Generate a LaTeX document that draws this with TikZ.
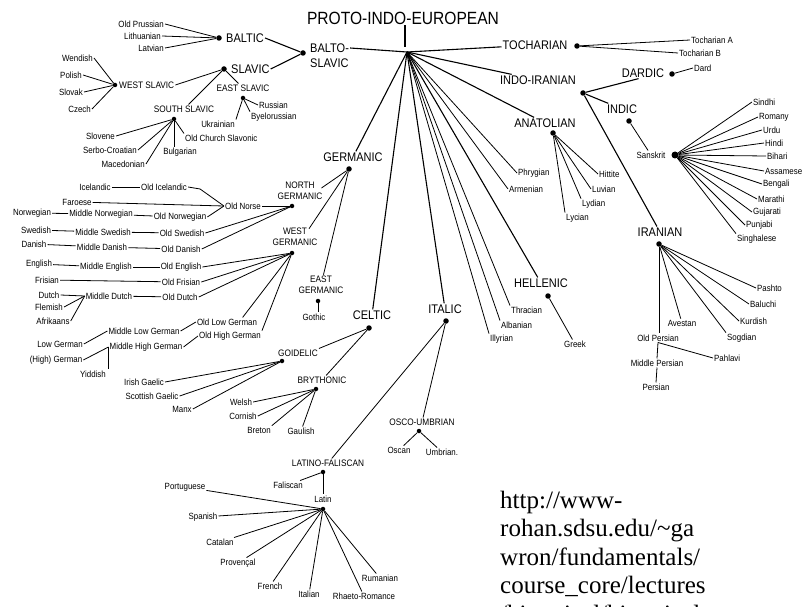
\documentclass[tikz,border=0pt]{standalone}
\usepackage{fontspec}
\setmainfont{Liberation Serif}
\newfontfamily\cond[FakeStretch=0.88]{Liberation Sans}
\usetikzlibrary{calc}
\tikzset{
 big/.style={font=\cond\fontsize{12.5}{15}\selectfont, inner sep=1pt},
 mid/.style={font=\cond\fontsize{9.4}{11.5}\selectfont, inner sep=1pt, align=center},
 sm/.style={font=\cond\fontsize{9}{10}\selectfont, inner sep=1pt},
 dot/.style={circle, fill=black, inner sep=0pt, minimum size=5.5pt},
 sdot/.style={circle, fill=black, inner sep=0pt, minimum size=4.5pt},
 br/.style={line width=1.1pt},
 ln/.style={line width=0.8pt},
 urltxt/.style={font=\fontsize{25}{28}\selectfont, inner sep=0pt, anchor=base west}
}
\begin{document}
\begin{tikzpicture}[x=1pt,y=-1pt]
\useasboundingbox (0,0) rectangle (804,607);

% ---------- root
\node[font=\cond\fontsize{17.7}{18}\selectfont, inner sep=1pt] (pie) at (403,18) {PROTO-INDO-EUROPEAN};
\coordinate (R) at (407,52);
\coordinate (Rtop) at (405,47);
\draw[br] (pie.south -| Rtop) -- (Rtop);

% ---------- Balto-Slavic
\node[big, anchor=west] (bs1) at (309,48) {BALTO-};
\node[big, anchor=west] (bs2) at (309,63) {SLAVIC};
\draw[br] (R) -- (bs1.east);
\node[dot] (bsd) at (303,53) {};
\node[dot] (baltd) at (219,38) {};
\node[big, anchor=west] (baltT) at (225,38) {BALTIC};
\draw[br] (baltT.east) -- (bsd);
\node[dot] (slavd) at (224,69) {};
\node[big, anchor=west] (slavT) at (230,69) {SLAVIC};
\draw[br] (slavT.east) -- (bsd);

\node[sm, anchor=east] (oprus) at (165,24) {Old Prussian};
\node[sm, anchor=east] (lith) at (162,36) {Lithuanian};
\node[sm, anchor=east] (latv) at (165,48) {Latvian};
\draw[ln] (baltd) -- (oprus.east);
\draw[ln] (baltd) -- (lith.east);
\draw[ln] (baltd) -- (latv.east);

\node[sdot] (wsd) at (115,85) {};
\node[mid, anchor=west] (wsT) at (118,85) {WEST SLAVIC};
\draw[ln] (wsT.east) -- (slavd);
\node[sm, anchor=east] (wend) at (94,58) {Wendish};
\node[sm, anchor=east] (pol) at (83,75) {Polish};
\node[sm, anchor=east] (slovk) at (84,92) {Slovak};
\node[sm, anchor=east] (czech) at (92,109) {Czech};
\draw[ln] (wsd) -- (wend.east);
\draw[ln] (wsd) -- (pol.east);
\draw[ln] (wsd) -- (slovk.east);
\draw[ln] (wsd) -- (czech.east);

\node[mid] (esT) at (243,88) {EAST SLAVIC};
\draw[ln] (slavd) -- (esT);
\node[sdot] (esd) at (243,98) {};
\node[sm, anchor=west] (russ) at (258,105) {Russian};
\node[sm, anchor=west] (byel) at (250,117) {Byelorussian};
\node[sm] (ukr) at (218,124) {Ukrainian};
\draw[ln] (esd) -- (russ.west);
\draw[ln] (esd) -- (byel.north west);
\draw[ln] (esd) -- (ukr.north east);

\node[mid] (ssT) at (184,109) {SOUTH SLAVIC};
\draw[ln] (slavd) -- (ssT);
\node[sdot] (ssd) at (174,119) {};
\node[sm, anchor=east] (slov) at (116,136) {Slovene};
\node[sm, anchor=east] (serb) at (138,150) {Serbo-Croatian};
\node[sm, anchor=east] (mace) at (146,164) {Macedonian};
\node[sm] (bulg) at (180,152) {Bulgarian};
\node[sm, anchor=west] (ocs) at (184,138) {Old Church Slavonic};
\draw[ln] (ssd) -- (slov.east);
\draw[ln] (ssd) -- (serb.east);
\draw[ln] (ssd) -- (mace.east);
\draw[ln] (ssd) -- (ssd |- bulg.north);
\draw[ln] (ssd) -- (ocs.north west);

% ---------- Germanic
\node[big] (germT) at (353,157) {GERMANIC};
\draw[br] (R) -- (germT);
\node[dot] (germd) at (349,169) {};

\node[mid] (ngT) at (300,191) {NORTH\\GERMANIC};
\draw[ln] (germd) -- ($(ngT.east)+(-2,-3)$);
\node[sdot] (ngd) at (292,206) {};
\node[sm, anchor=east] (onorse) at (262,206) {Old Norse};
\draw[ln] (onorse.east) -- (ngd);
\node[sm] (ice) at (95,187) {Icelandic};
\node[sm] (oice) at (164,187) {Old Icelandic};
\draw[ln] (ice) -- (oice);
\draw[ln] (oice.east) -- ++(12,2) -- (onorse.west);
\node[sm] (faro) at (77,202) {Faroese};
\draw[ln] (faro) -- (onorse.west);
\node[sm] (norw) at (32,213) {Norwegian};
\node[sm] (mnorw) at (101,214) {Middle Norwegian};
\node[sm] (onorw) at (180,217) {Old Norwegian};
\draw[ln] (norw) -- (mnorw);
\draw[ln] (mnorw) -- (onorw);
\draw[ln] (onorw.east) -- (onorse.west);
\node[sm] (swed) at (36,230) {Swedish};
\node[sm] (mswed) at (103,232) {Middle Swedish};
\node[sm] (oswed) at (182,233) {Old Swedish};
\draw[ln] (swed) -- (mswed);
\draw[ln] (mswed) -- (oswed);
\draw[ln] (oswed.east) -- (ngd);
\node[sm] (dan) at (34,244) {Danish};
\node[sm] (mdan) at (102,247) {Middle Danish};
\node[sm] (odan) at (181,249) {Old Danish};
\draw[ln] (dan) -- (mdan);
\draw[ln] (mdan) -- (odan);
\draw[ln] (odan.east) -- (ngd);

\node[mid] (wgT) at (295,237) {WEST\\GERMANIC};
\draw[ln] (germd) -- ($(wgT.north)+(14,2)$);
\node[sdot] (wgd) at (292,253) {};
\node[sm] (eng) at (39,264) {English};
\node[sm] (meng) at (106,267) {Middle English};
\node[sm] (oeng) at (181,267) {Old English};
\draw[ln] (eng) -- (meng);
\draw[ln] (meng) -- (oeng);
\draw[ln] (oeng.east) -- (wgd);
\node[sm] (fris) at (47,280) {Frisian};
\node[sm] (ofris) at (181,282) {Old Frisian};
\draw[ln] (fris) -- (ofris);
\draw[ln] (ofris.east) -- (wgd);
\node[sm] (dutch) at (49,295) {Dutch};
\node[sm] (flem) at (49,307) {Flemish};
\node[sm] (afr) at (53,321) {Afrikaans};
\node[sm] (mdutch) at (109,296) {Middle Dutch};
\node[sm] (odutch) at (180,297) {Old Dutch};
\draw[ln] (dutch.east) -- (mdutch.west);
\draw[ln] (flem.east) -- (mdutch.west);
\draw[ln] (afr.east) -- (mdutch.west);
\draw[ln] (mdutch) -- (odutch);
\draw[ln] (odutch.east) -- (wgd);
\node[sm] (olg) at (227,322) {Old Low German};
\node[sm] (ohg) at (230,336) {Old High German};
\draw[ln] (wgd) -- ($(olg.north)!0.5!(olg.north east)$);
\draw[ln] (wgd) -- (ohg.north east);
\node[sm] (mlg) at (144,331) {Middle Low German};
\node[sm] (mhg) at (146,347) {Middle High German};
\draw[ln] (mlg.east) -- (olg.west);
\draw[ln] (mhg.east) -- (ohg.west);
\node[sm] (lg) at (60,344) {Low German};
\node[sm] (hg) at (56,360) {(High) German};
\node[sm] (yid) at (93,374) {Yiddish};
\draw[ln] (lg.east) -- (mlg.west);
\draw[ln] (hg.east) -- (mhg.west);
\draw[ln] (mhg.west) -- (mhg.west |- yid.north);

\node[mid] (egT) at (321,285) {EAST\\GERMANIC};
\draw[ln] (germd) -- (egT);
\node[sdot] (egd) at (318,301) {};
\node[sm] (goth) at (314,317) {Gothic};
\draw[ln] (egd) -- (egd |- goth.north);

% ---------- Celtic
\node[big] (celtT) at (372,315) {CELTIC};
\draw[br] (R) -- (celtT);
\node[dot] (celtd) at (369,328) {};
\node[mid] (goidT) at (298,353) {GOIDELIC};
\draw[ln] (celtd) -- (goidT.north east);
\node[sdot] (goidd) at (282,361) {};
\node[sm] (irish) at (144,382) {Irish Gaelic};
\node[sm] (scot) at (152,396) {Scottish Gaelic};
\node[sm] (manx) at (182,409) {Manx};
\draw[ln] (goidd) -- (irish.east);
\draw[ln] (goidd) -- (scot.east);
\draw[ln] (goidd) -- (manx.east);
\node[mid] (bryT) at (322,380) {BRYTHONIC};
\draw[ln] (celtd) -- (bryT);
\node[sdot] (bryd) at (316,389) {};
\node[sm] (welsh) at (241,402) {Welsh};
\node[sm] (corn) at (243,416) {Cornish};
\node[sm] (bret) at (259,430) {Breton};
\node[sm] (gaul) at (301,431) {Gaulish};
\draw[ln] (bryd) -- (welsh.east);
\draw[ln] (bryd) -- (corn.east);
\draw[ln] (bryd) -- (bret.north east);
\draw[ln] (bryd) -- (gaul);

% ---------- Italic
\node[big] (italT) at (445,309) {ITALIC};
\draw[br] (R) -- (italT);
\node[dot] (itald) at (446,321) {};
\node[mid] (oscoT) at (422,422) {OSCO-UMBRIAN};
\draw[ln] (itald) -- (oscoT);
\node[sdot] (oscod) at (419,431) {};
\node[sm] (oscan) at (399,450) {Oscan};
\node[sm] (umbr) at (442,452) {Umbrian.};
\draw[ln] (oscod) -- (oscan);
\draw[ln] (oscod) -- (umbr);
\node[mid] (lfT) at (328,463) {LATINO-FALISCAN};
\draw[ln] (itald) -- (lfT);
\node[sdot] (lfd) at (323,472) {};
\node[sm] (falis) at (288,485) {Faliscan};
\draw[ln] (lfd) -- (falis);
\node[sm] (latin) at (323,499) {Latin};
\draw[ln] (lfd) -- (latin);
\node[sdot] (latd) at (323,509) {};
\node[sm] (port) at (185,487) {Portuguese};
\node[sm] (span) at (203,517) {Spanish};
\node[sm] (catal) at (220,542) {Catalan};
\node[sm] (prov) at (238,563) {Proven\c{c}al};
\node[sm] (fren) at (270,586) {French};
\node[sm] (ital) at (309,594) {Italian};
\node[sm] (rhaet) at (364,596) {Rhaeto-Romance};
\node[sm] (ruman) at (380,578) {Rumanian};
\foreach \n in {port,span,catal,prov,fren,ital,rhaet,ruman} \draw[ln] (latd) -- (\n);

% ---------- Hellenic, Illyrian, etc.
\node[big] (hellT) at (541,283) {HELLENIC};
\draw[br] (R) -- (hellT);
\node[dot] (helld) at (548,296) {};
\node[sm] (greek) at (575,344) {Greek};
\draw[ln] (helld) -- (greek);
\node[sm, anchor=west] (thrac) at (510,310) {Thracian};
\node[sm, anchor=west] (alban) at (500,325) {Albanian};
\node[sm, anchor=west] (illyr) at (489,339) {Illyrian};
\draw[ln] (R) -- (thrac.north west);
\draw[ln] (R) -- (alban.north west);
\draw[ln] (R) -- (illyr.north west);
\node[sm, anchor=west] (phryg) at (517,173) {Phrygian};
\node[sm, anchor=west] (armen) at (508,189) {Armenian};
\draw[ln] (R) -- (phryg.west);
\draw[ln] (R) -- (armen.west);

% ---------- Anatolian
\node[big] (anatT) at (545,123) {ANATOLIAN};
\draw[br] (R) -- (anatT);
\node[dot] (anatd) at (553,133) {};
\node[sm, anchor=west] (hitt) at (598,174) {Hittite};
\node[sm, anchor=west] (luv) at (591,189) {Luvian};
\node[sm, anchor=west] (lyd) at (581,204) {Lydian};
\node[sm, anchor=west] (lyc) at (565,218) {Lycian};
\draw[ln] (anatd) -- (hitt.west);
\draw[ln] (anatd) -- (luv.west);
\draw[ln] (anatd) -- (lyd.north west);
\draw[ln] (anatd) -- (lyc.north west);

% ---------- Tocharian
\node[big] (tochT) at (535,45) {TOCHARIAN};
\draw[br] (R) -- (tochT);
\node[dot] (tochd) at (577,46) {};
\node[sm, anchor=west] (tochA) at (690,40) {Tocharian A};
\node[sm, anchor=west] (tochB) at (678,53) {Tocharian B};
\draw[ln] (tochd) -- (tochA.west);
\draw[ln] (tochd) -- (tochB.west);

% ---------- Indo-Iranian
\node[big] (iiT) at (538,80) {INDO-IRANIAN};
\draw[br] (R) -- (iiT);
\node[dot] (iid) at (583,93) {};
\node[big] (dardT) at (643,73) {DARDIC};
\draw[br] (iid) -- ($(dardT.south west)!0.4!(dardT.south east)$);
\node[dot] (dardd) at (672,74) {};
\node[sm, anchor=west] (dard) at (693,68) {Dard};
\draw[ln] (dardd) -- (dard.west);
\node[big] (indicT) at (622,109) {INDIC};
\draw[br] (iid) -- (indicT);
\node[dot] (indicd) at (629,121) {};
\node[sm] (sansT) at (651,155) {Sanskrit};
\draw[ln] (indicd) -- (sansT);
\node[circle, fill=black, inner sep=0pt, minimum size=7pt] (sansd) at (675,155) {};
\node[sm, anchor=west] (sindhi) at (752,102) {Sindhi};
\node[sm, anchor=west] (romany) at (758,117) {Romany};
\node[sm, anchor=west] (urdu) at (762,130) {Urdu};
\node[sm, anchor=west] (hindi) at (764,143) {Hindi};
\node[sm, anchor=west] (bihari) at (766,156) {Bihari};
\node[sm, anchor=west] (assam) at (764,171) {Assamese};
\node[sm, anchor=west] (beng) at (762,184) {Bengali};
\node[sm, anchor=west] (marat) at (757,199) {Marathi};
\node[sm, anchor=west] (gujar) at (752,212) {Gujarati};
\node[sm, anchor=west] (punj) at (745,225) {Punjabi};
\node[sm, anchor=west] (singh) at (736,239) {Singhalese};
\foreach \n in {sindhi,romany,urdu,hindi,bihari,assam,beng,marat,gujar,punj} \draw[ln] (sansd) -- (\n.west);
\draw[ln] (sansd) -- (singh.north west);

\node[big] (iranT) at (660,232) {IRANIAN};
\draw[br] (iid) -- (iranT);
\node[dot] (irand) at (659,244) {};
\node[sm, anchor=west] (pasht) at (756,288) {Pashto};
\node[sm, anchor=west] (baluc) at (749,304) {Baluchi};
\node[sm, anchor=west] (kurd) at (739,321) {Kurdish};
\node[sm, anchor=west] (sogd) at (726,338) {Sogdian};
\node[sm] (avest) at (682,323) {Avestan};
\node[sm] (opers) at (658,338) {Old Persian};
\node[sm] (mpers) at (657,363) {Middle Persian};
\node[sm] (pers) at (656,387) {Persian};
\node[sm, anchor=west] (pahl) at (713,358) {Pahlavi};
\draw[ln] (irand) -- (pasht.west);
\draw[ln] (irand) -- (baluc.west);
\draw[ln] (irand) -- (kurd.west);
\draw[ln] (irand) -- (sogd.north west);
\draw[ln] (irand) -- (avest);
\draw[ln] (irand) -- (irand |- opers.north);
\draw[ln] (opers.south) -- (mpers.north);
\draw[ln] (opers.south) -- (pahl.west);
\draw[ln] (mpers.south) -- (pers.north);

% ---------- source
\node[urltxt] (u1) at (500,508) {http://www-};
\node[urltxt] (u2) at (500,536.5) {rohan.sdsu.edu/\textasciitilde ga};
\node[urltxt] (u3) at (500,565) {wron/fundamentals/};
\node[urltxt] (u4) at (500,593.5) {course\_core/lectures};
\begin{scope}
\clip (0,0) rectangle (804,607);
\node[urltxt] (u5) at (500,622) {/historical/historical};
\end{scope}
\end{tikzpicture}
\end{document}
